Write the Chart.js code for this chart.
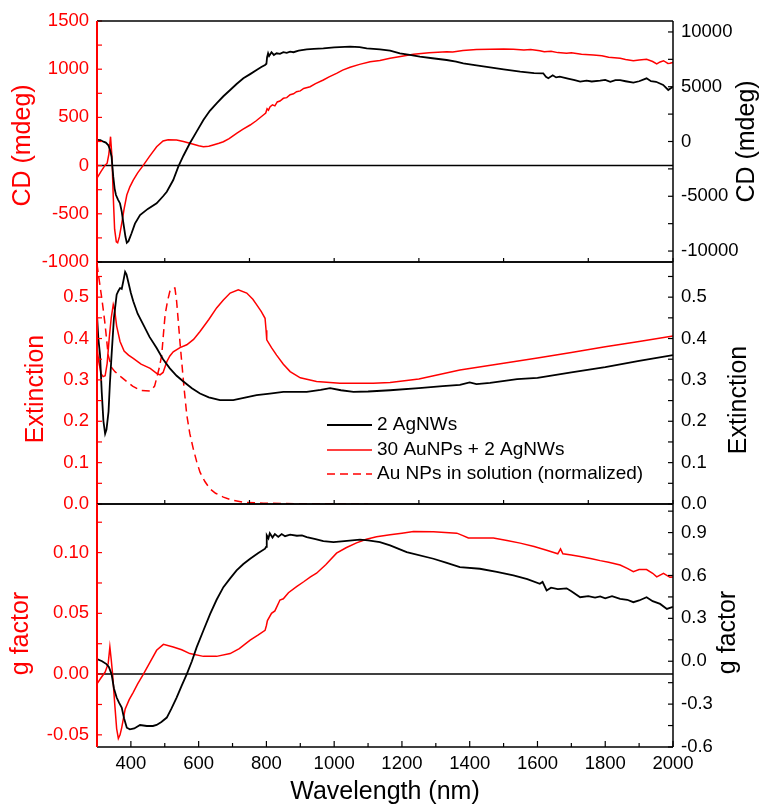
<!DOCTYPE html>
<html><head><meta charset="utf-8">
<script src="https://cdn.jsdelivr.net/npm/chart.js@4.4.0/dist/chart.umd.min.js"></script>
<style>
html,body{margin:0;padding:0;background:#fff;width:764px;height:807px;overflow:hidden;}
.panel{position:absolute;left:0;width:764px;}
</style></head><body>
<div class="panel" style="top:0;height:272px"><canvas id="c1"></canvas></div>
<div class="panel" style="top:252px;height:262px"><canvas id="c2"></canvas></div>
<div class="panel" style="top:494px;height:313px"><canvas id="c3"></canvas></div>
<script>
// ---------- DATA ----------
// Panel 1: CD
const cdAuNm  = [300,312,324,330,335,340,344,348,352,357,361,366,373,380,388,397,407,420,437,455,476,495,510,535,555,574,600,614,630,643,660,673,690,712,730,752,770,791,798,802,806,811,818,825,832,840,850,860,870,880,889,900,910,929,945,968,985,1007,1025,1047,1075,1106,1135,1165,1200,1234,1280,1332,1350,1380,1420,1460,1500,1529,1560,1580,1607,1620,1640,1660,1686,1700,1730,1765,1790,1810,1844,1860,1883,1900,1922,1940,1952,1962,1972,1985,1991,2000];
const cdAuVal = [-130,-60,5,25,120,300,100,-320,-660,-790,-800,-740,-600,-450,-305,-220,-150,-75,5,95,196,255,268,265,250,232,205,196,200,214,232,248,280,335,375,421,465,525,545,590,575,611,630,620,660,670,698,705,735,745,767,775,800,818,850,888,920,957,990,1020,1050,1078,1090,1113,1135,1154,1170,1181,1178,1195,1205,1206,1210,1206,1200,1205,1192,1180,1185,1172,1165,1170,1155,1147,1140,1125,1113,1100,1088,1095,1102,1080,1054,1075,1088,1060,1061,1070];
const cdAgNm  = [300,310,319,326,333,338,343,348,352,356,362,368,373,378,384,388,393,402,412,427,450,476,495,506,525,540,555,574,594,614,633,653,673,693,712,732,752,771,785,796,800,802,805,808,815,822,830,840,850,860,870,880,895,919,940,968,1000,1047,1075,1096,1135,1165,1194,1223,1253,1290,1332,1360,1381,1420,1460,1500,1549,1590,1617,1625,1632,1645,1655,1666,1690,1710,1726,1745,1760,1785,1800,1815,1830,1844,1860,1883,1900,1922,1935,1950,1971,1986,2000];
const cdAgVal = [150,120,-18,-100,-320,-700,-1388,-3213,-4300,-4884,-5300,-5655,-6400,-7468,-8700,-9238,-9100,-8381,-7500,-6710,-6150,-5642,-5000,-4582,-3515,-2300,-1300,-164,900,1963,2800,3487,4130,4701,5250,5766,6150,6527,6800,6984,7100,7700,8052,7800,8150,7900,8052,8000,8150,8100,8204,8150,8300,8417,8450,8508,8600,8660,8620,8508,8417,8295,8052,7900,7748,7600,7440,7300,7140,6950,6770,6580,6370,6250,6226,5900,5770,6050,5850,5920,5750,5600,5460,5550,5480,5550,5620,5450,5600,5600,5500,5370,5500,5770,5500,5450,5160,4700,5000];

// Panel 2: Extinction
const extAgNm  = [300,304,309,314,319,324,328,334,338,343,350,358,363,368,373,378,383,387,392,400,407,420,437,455,476,495,515,535,555,580,604,630,663,702,740,771,810,850,919,960,988,1020,1057,1100,1165,1250,1320,1371,1400,1420,1460,1540,1600,1700,1800,1900,2000];
const extAgVal = [0.457,0.40,0.36,0.27,0.20,0.170,0.18,0.223,0.29,0.36,0.45,0.506,0.515,0.522,0.52,0.54,0.561,0.555,0.538,0.51,0.49,0.46,0.433,0.404,0.377,0.35,0.328,0.31,0.296,0.28,0.267,0.258,0.251,0.251,0.258,0.263,0.267,0.271,0.271,0.276,0.280,0.275,0.271,0.272,0.275,0.280,0.285,0.288,0.294,0.290,0.293,0.302,0.305,0.318,0.331,0.346,0.360];
const extAuNm  = [300,305,312,318,324,330,336,342,348,352,358,368,380,393,407,430,457,476,486,495,506,515,525,545,565,585,604,630,653,673,693,717,742,760,771,785,796,799,801,815,830,850,870,900,948,1017,1115,1165,1250,1371,1500,1600,1700,1800,1900,2000];
const extAuVal = [0.38,0.345,0.315,0.308,0.31,0.34,0.40,0.45,0.482,0.47,0.43,0.393,0.37,0.36,0.352,0.338,0.328,0.316,0.312,0.318,0.344,0.358,0.368,0.378,0.385,0.398,0.417,0.446,0.474,0.493,0.510,0.518,0.510,0.495,0.482,0.465,0.449,0.42,0.397,0.378,0.360,0.338,0.320,0.305,0.296,0.292,0.292,0.294,0.302,0.324,0.340,0.353,0.366,0.380,0.393,0.406];
const extSolNm  = [300,305,314,320,324,333,343,353,370,388,405,427,457,470,476,484,491,496,501,508,515,522,530,535,540,545,550,557,565,574,584,594,604,618,633,650,673,700,732,791,850,950,1100];
const extSolVal = [0.58,0.55,0.498,0.46,0.433,0.36,0.33,0.32,0.308,0.296,0.285,0.275,0.273,0.285,0.304,0.33,0.36,0.41,0.457,0.49,0.514,0.522,0.522,0.49,0.441,0.39,0.344,0.28,0.215,0.17,0.134,0.103,0.077,0.055,0.037,0.026,0.0165,0.009,0.004,0.002,0.001,0.0005,0];

// Panel 3: g factor
const gAgNm  = [300,315,328,335,343,350,358,365,373,380,388,397,410,427,447,465,476,490,506,520,535,550,565,580,594,614,634,653,673,693,712,732,752,775,796,799,801,806,810,818,825,835,845,855,870,890,905,919,945,968,998,1030,1076,1100,1135,1165,1214,1293,1330,1371,1430,1480,1529,1570,1607,1615,1627,1640,1660,1686,1700,1726,1750,1770,1785,1800,1820,1844,1865,1883,1900,1922,1940,1962,1982,2000];
const gAgVal = [0.015,0.0,-0.02,-0.04,-0.09,-0.19,-0.254,-0.29,-0.324,-0.40,-0.465,-0.476,-0.47,-0.446,-0.453,-0.453,-0.446,-0.425,-0.394,-0.33,-0.254,-0.17,-0.09,0.0,0.097,0.215,0.331,0.43,0.518,0.58,0.635,0.68,0.717,0.755,0.787,0.80,0.881,0.86,0.895,0.865,0.89,0.87,0.89,0.875,0.885,0.878,0.88,0.869,0.855,0.841,0.834,0.84,0.851,0.845,0.834,0.811,0.764,0.717,0.69,0.659,0.647,0.625,0.600,0.575,0.542,0.555,0.495,0.515,0.505,0.51,0.49,0.448,0.455,0.445,0.453,0.44,0.455,0.436,0.43,0.413,0.425,0.448,0.42,0.401,0.366,0.38];
const gAuNm  = [300,312,324,333,338,342,346,353,358,363,368,373,383,395,407,420,437,455,476,496,525,550,574,614,653,693,720,752,775,796,800,803,815,825,840,850,865,889,910,930,948,975,1007,1035,1066,1095,1125,1165,1200,1234,1293,1362,1380,1396,1470,1510,1549,1590,1627,1660,1668,1675,1700,1726,1760,1785,1810,1844,1865,1883,1900,1922,1940,1952,1972,1991,2000];
const gAuVal = [-0.008,-0.003,0.0017,0.0086,0.0223,0.012,0.0,-0.027,-0.045,-0.053,-0.05,-0.044,-0.029,-0.021,-0.015,-0.008,0.0,0.009,0.0196,0.0245,0.0223,0.020,0.0169,0.0146,0.0146,0.0169,0.021,0.0279,0.032,0.036,0.040,0.044,0.050,0.052,0.061,0.062,0.067,0.072,0.076,0.080,0.083,0.090,0.0995,0.104,0.108,0.111,0.113,0.1146,0.116,0.1174,0.1172,0.116,0.114,0.112,0.112,0.110,0.1078,0.105,0.102,0.099,0.103,0.099,0.098,0.0967,0.095,0.0934,0.092,0.0898,0.087,0.0843,0.086,0.086,0.083,0.080,0.083,0.0797,0.080];

// Tick labels
const xTicks      = [400,600,800,1000,1200,1400,1600,1800,2000];
const cdLeftTicks  = [-1000,-500,0,500,1000,1500];
const cdRightTicks = [-10000,-5000,0,5000,10000];
const extTicks     = [0.0,0.1,0.2,0.3,0.4,0.5];
const gLeftTicks   = [-0.05,0.00,0.05,0.10];
const gRightTicks  = [-0.6,-0.3,0.0,0.3,0.6,0.9];

// Labels
const labelAg  = '2 AgNWs';
const labelAu  = '30 AuNPs + 2 AgNWs';
const labelSol = 'Au NPs in solution (normalized)';

// ---------- RENDER ----------
const RED = '#ff0000', BLACK = '#000000';
const FAMILY = '"Liberation Sans", Arial, Helvetica, sans-serif';
Chart.defaults.font.family = FAMILY;

const pts = (xs, ys) => xs.map((x, i) => ({x, y: ys[i]}));

const deco = {
  id: 'deco',
  beforeDatasetsDraw(chart, args, o) {
    const {ctx, chartArea: a} = chart;
    if (o.zero) {
      const y = chart.scales.y.getPixelForValue(0);
      ctx.save(); ctx.strokeStyle = BLACK; ctx.lineWidth = 1.5;
      ctx.beginPath(); ctx.moveTo(a.left, y); ctx.lineTo(a.right, y); ctx.stroke(); ctx.restore();
    }
  },
  afterDatasetsDraw(chart, args, o) {
    const {ctx, chartArea: a, scales} = chart;
    const line = (x1, y1, x2, y2) => { ctx.beginPath(); ctx.moveTo(x1, y1); ctx.lineTo(x2, y2); ctx.stroke(); };
    const steps = (s, step) => { const out = []; const n0 = Math.ceil(s.min / step - 1e-6); for (let n = n0; n * step <= s.max + 1e-9; n++) out.push(n * step); return out; };
    ctx.save();
    ctx.lineCap = 'butt';
    // ticks
    ctx.lineWidth = 1.2;
    ctx.strokeStyle = BLACK;
    for (const v of steps(scales.x, o.xStep)) {
      const px = scales.x.getPixelForValue(v);
      const len = (o.xMajor && Math.abs(v / o.xMajor - Math.round(v / o.xMajor)) < 1e-6) ? 6 : 4;
      line(px, a.bottom, px, a.bottom - len);
    }
    ctx.strokeStyle = RED;
    for (const v of steps(scales.y, o.yStep)) {
      const py = scales.y.getPixelForValue(v);
      line(a.left, py, a.left + 5, py);
    }
    ctx.strokeStyle = BLACK;
    for (const v of steps(scales.y2, o.y2Step)) {
      const py = scales.y2.getPixelForValue(v);
      line(a.right, py, a.right - 5, py);
    }
    // frame
    ctx.lineWidth = 1.5; ctx.strokeStyle = BLACK;
    line(a.left, a.top, a.right, a.top);
    line(a.left, a.bottom, a.right, a.bottom);
    line(a.right, a.top, a.right, a.bottom);
    ctx.lineWidth = 2; ctx.strokeStyle = RED;
    line(a.left, a.top, a.left, a.bottom);
    // axis titles
    ctx.font = '25px ' + FAMILY;
    ctx.textAlign = 'center'; ctx.textBaseline = 'middle';
    const cy = (a.top + a.bottom) / 2;
    for (const t of (o.titles || [])) {
      ctx.save();
      ctx.translate(t.x, cy + t.dy);
      ctx.rotate(-Math.PI / 2);
      ctx.fillStyle = t.color;
      ctx.fillText(t.text, 0, 0);
      ctx.restore();
    }
    // legend
    if (o.legend) {
      const L = o.legend;
      ctx.font = '19px ' + FAMILY;
      ctx.textAlign = 'left'; ctx.textBaseline = 'middle';
      chart.data.datasets.forEach((ds, i) => {
        const y = a.top + L.dy[i];
        const x0 = a.left + L.dx;
        ctx.save();
        ctx.strokeStyle = ds.borderColor; ctx.lineWidth = ds.borderWidth;
        ctx.setLineDash(ds.borderDash || []);
        line(x0, y, x0 + L.len, y);
        ctx.restore();
        ctx.fillStyle = BLACK;
        ctx.fillText(ds.label, x0 + L.len + 5, y);
      });
    }
    ctx.restore();
  }
};

function yScale(pos, min, max, tickVals, decimals, color, width) {
  return {
    type: 'linear', position: pos, min, max,
    grid: {display: false, drawTicks: false}, border: {display: false},
    ticks: {color, padding: 8, font: {size: 18.5},
      callback: v => decimals === 0 ? String(v) : Number(v).toFixed(decimals)},
    afterBuildTicks: s => { s.ticks = tickVals.map(v => ({value: v})); },
    afterFit: s => { s.width = width; s.paddingTop = 0; s.paddingBottom = 0; }
  };
}
function xScale(show) {
  return {
    type: 'linear', min: 300, max: 2000, display: show,
    grid: {display: false, drawTicks: false}, border: {display: false},
    ticks: {color: BLACK, padding: 6, font: {size: 18.5}, maxRotation: 0, callback: v => String(v)},
    afterBuildTicks: s => { s.ticks = xTicks.map(v => ({value: v})); },
    title: {display: show, text: 'Wavelength (nm)', color: BLACK, font: {size: 25}, padding: {top: 0, bottom: 0}},
    afterFit: s => { if (show) s.height = 60; s.paddingLeft = 0; s.paddingRight = 0; }
  };
}
function lineDs(label, xs, ys, color, width, axis, dash) {
  return {label, data: pts(xs, ys), borderColor: color, backgroundColor: color, borderWidth: width,
    pointRadius: 0, tension: 0, fill: false, yAxisID: axis, borderDash: dash || []};
}
const common = (padding, scales, deco) => ({
  responsive: true, maintainAspectRatio: false, animation: false, events: [],
  layout: {padding},
  plugins: {legend: {display: false}, tooltip: {enabled: false}, deco},
  scales
});

new Chart(document.getElementById('c1'), {
  type: 'line',
  data: {datasets: [
    lineDs(labelAg, cdAgNm, cdAgVal, BLACK, 1.8, 'y2'),
    lineDs(labelAu, cdAuNm, cdAuVal, RED, 1.5, 'y')
  ]},
  options: common({top: 21, bottom: 10, left: 0, right: 0}, {
    x: xScale(false),
    y: yScale('left', -1000, 1500, cdLeftTicks, 0, RED, 97),
    y2: yScale('right', -11000, 11000, cdRightTicks, 0, BLACK, 91)
  }, {zero: true, xStep: 250, yStep: 250, y2Step: 2500,
      titles: [{text: 'CD (mdeg)', x: 23, dy: 4, color: RED}, {text: 'CD (mdeg)', x: 747, dy: 0, color: BLACK}]}),
  plugins: [deco]
});

new Chart(document.getElementById('c2'), {
  type: 'line',
  data: {datasets: [
    lineDs(labelAg, extAgNm, extAgVal, BLACK, 1.8, 'y'),
    lineDs(labelAu, extAuNm, extAuVal, RED, 1.5, 'y'),
    lineDs(labelSol, extSolNm, extSolVal, RED, 1.5, 'y', [8, 5])
  ]},
  options: common({top: 10, bottom: 10, left: 0, right: 0}, {
    x: xScale(false),
    y: yScale('left', 0, 0.585, extTicks, 1, RED, 97),
    y2: yScale('right', 0, 0.585, extTicks, 1, BLACK, 91)
  }, {zero: false, xStep: 250, yStep: 0.05, y2Step: 0.05,
      titles: [{text: 'Extinction', x: 36, dy: 6, color: RED}, {text: 'Extinction', x: 739.5, dy: 17, color: BLACK}],
      legend: {dx: 230, dy: [163, 188, 212], len: 45}}),
  plugins: [deco]
});

new Chart(document.getElementById('c3'), {
  type: 'line',
  data: {datasets: [
    lineDs(labelAg, gAgNm, gAgVal, BLACK, 1.8, 'y2'),
    lineDs(labelAu, gAuNm, gAuVal, RED, 1.5, 'y')
  ]},
  options: common({top: 10, bottom: 0, left: 0, right: 0}, {
    x: xScale(true),
    y: yScale('left', -0.06, 0.14, gLeftTicks, 2, RED, 97),
    y2: yScale('right', -0.6, 1.1, gRightTicks, 1, BLACK, 91)
  }, {zero: true, xStep: 100, xMajor: 200, yStep: 0.025, y2Step: 0.15,
      titles: [{text: 'g factor', x: 21, dy: 8, color: RED}, {text: 'g factor', x: 728, dy: 7, color: BLACK}]}),
  plugins: [deco]
});
</script>
</body></html>
